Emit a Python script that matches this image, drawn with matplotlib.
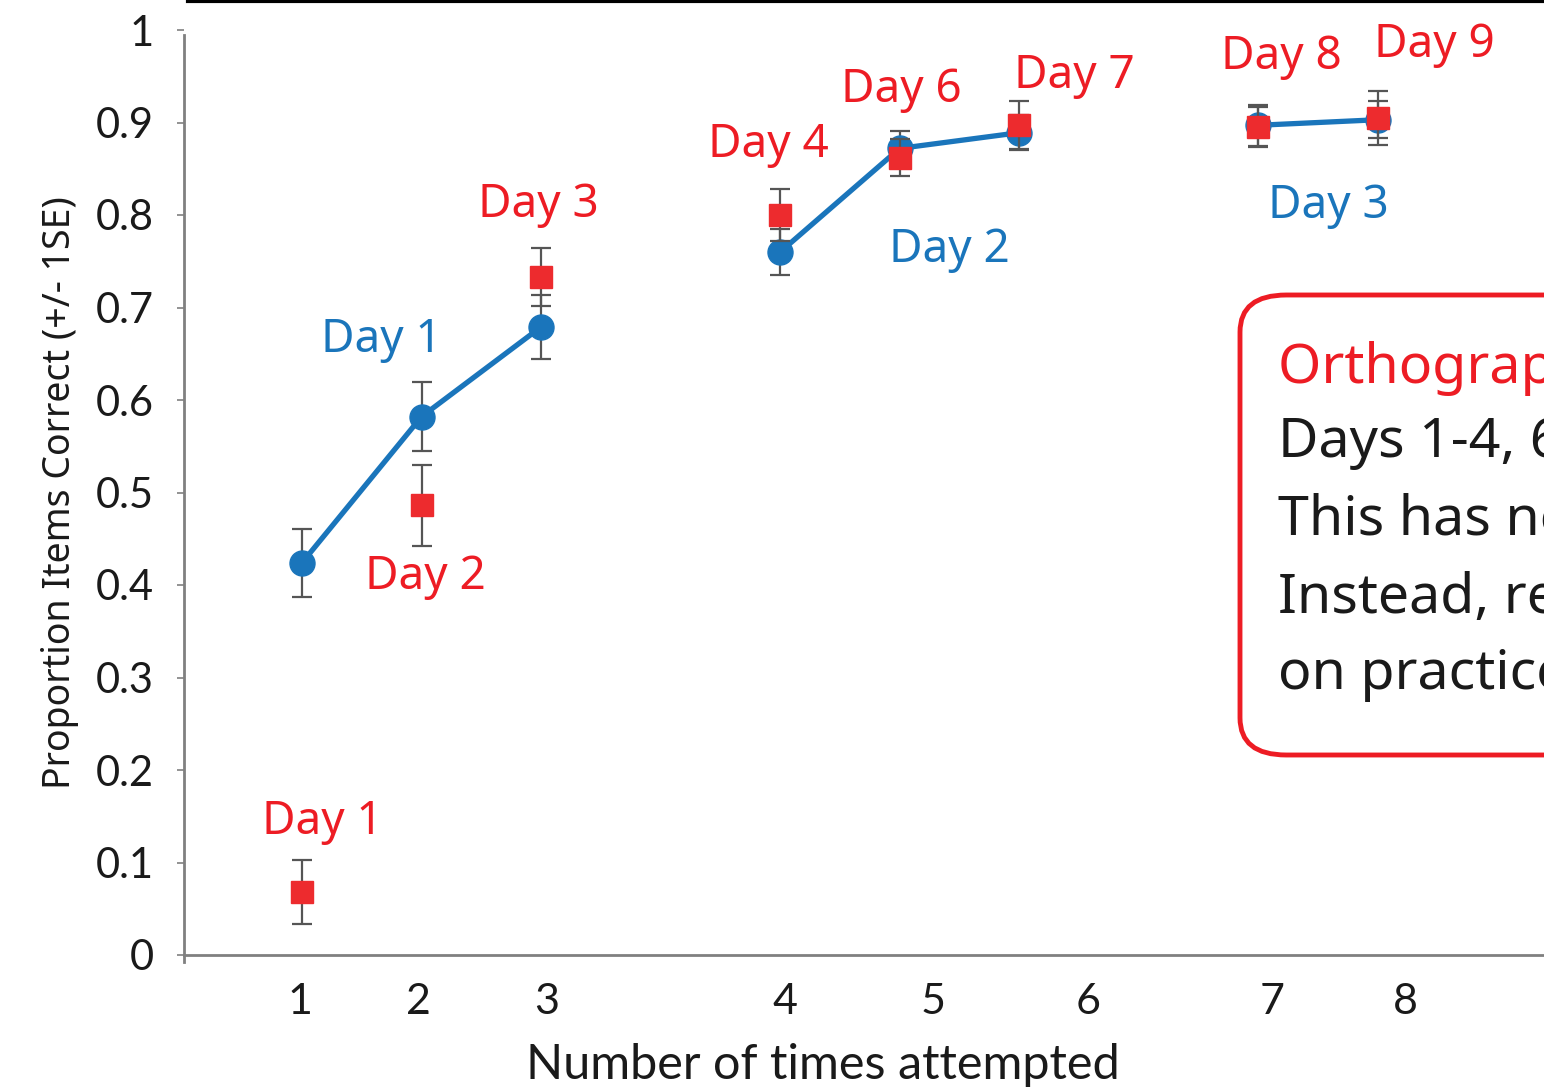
import numpy as np
import matplotlib
matplotlib.use("Agg")
import matplotlib.pyplot as plt
from matplotlib.patches import FancyBboxPatch
from matplotlib.lines import Line2D

# ---------------- data ----------------
# plotting slots (gaps between blocks of sessions)
slot_blue = [1, 2, 3, np.nan, 5, 6, 7, np.nan, 9, 10]
blue_mean = [0.424, 0.582, 0.679, np.nan, 0.760, 0.872, 0.889, np.nan, 0.897, 0.903]
blue_se   = [0.037, 0.037, 0.035, np.nan, 0.025, 0.019, 0.019, np.nan, 0.022, 0.020]

slot_red = [1, 2, 3, 5, 6, 7, 9, 10]
red_mean = [0.068, 0.486, 0.733, 0.800, 0.862, 0.897, 0.895, 0.905]
red_se   = [0.035, 0.044, 0.031, 0.028, 0.020, 0.026, 0.022, 0.029]

red_labels = ["Day 1", "Day 2", "Day 3", "Day 4", "Day 6", "Day 7", "Day 8", "Day 9"]
blue_labels = ["Day 1", "Day 2", "Day 3"]

xtick_pos = [0.983, 1.971, 3.05, 5.04, 6.28, 7.577, 9.117, 10.23]
xtick_labels = ["1", "2", "3", "4", "5", "6", "7", "8"]
ytick_vals = [0.0, 0.1, 0.2, 0.3, 0.4, 0.5, 0.6, 0.7, 0.8, 0.9, 1.0]
ytick_labels = ["0", "0.1", "0.2", "0.3", "0.4", "0.5", "0.6", "0.7", "0.8", "0.9", "1"]

box_lines = ["Orthographic learning:",
             "Days 1-4, 6-9 show steady gains.",
             "This has not reached ceiling.",
             "Instead, retention depends",
             "on practice over time."]

# ---------------- style ----------------
BLUE = "#1a75bb"
RED = "#ed2b2e"
RED_TXT = "#ed1c24"
GRAY = "#808080"
ERR = "#555555"
ANN_FONT = ["Noto Sans", "DejaVu Sans"]
TICK_FONT = ["Lato", "DejaVu Sans"]

W, H = 1544, 1092
fig = plt.figure(figsize=(W / 100, H / 100), dpi=100)
fig.patch.set_facecolor("white")

def fx(px):
    return px / W

def fy(py):
    return (H - py) / H

ax = fig.add_axes([fx(184), fy(955), fx(1544) - fx(184), fy(30) - fy(955)])
ax.set_xlim(0.013, 11.39)
ax.set_ylim(0, 1)

# blue line and points
ax.errorbar(slot_blue, blue_mean, yerr=blue_se, fmt="none", ecolor=ERR,
            elinewidth=1.6, capsize=7, capthick=1.6, zorder=2)
ax.plot(slot_blue, blue_mean, color=BLUE, lw=3.8, marker="o", ms=18,
        mfc=BLUE, mec=BLUE, zorder=3)
# red points
ax.errorbar(slot_red, red_mean, yerr=red_se, fmt="none", ecolor=ERR,
            elinewidth=1.6, capsize=7, capthick=1.6, zorder=4)
ax.plot(slot_red, red_mean, ls="none", marker="s", ms=16.5, mfc=RED, mec=RED, zorder=5)

# axes style
for s in ["top", "right"]:
    ax.spines[s].set_visible(False)
for s in ["left", "bottom"]:
    ax.spines[s].set_color(GRAY)
    ax.spines[s].set_linewidth(2.0)
ax.spines["left"].set_bounds(-0.008, 0.995)
ax.set_yticks(ytick_vals)
ax.set_yticklabels(ytick_labels, fontfamily=TICK_FONT, fontsize=30, color="#1a1a1a")
ax.tick_params(axis="y", direction="out", length=5, width=1.2, color=GRAY, pad=17)
ax.set_xticks(xtick_pos)
ax.set_xticklabels(xtick_labels, fontfamily=TICK_FONT, fontsize=31, color="#1a1a1a")
ax.tick_params(axis="x", length=0, pad=20)

# axis titles
fig.text(fx(60), fy(493), "Proportion Items Correct (+/- 1SE)", rotation=90,
         ha="center", va="center", fontsize=27, family=ANN_FONT, color="#1a1a1a")
fig.text(fx(823), fy(1065), "Number of times attempted", ha="center", va="center",
         fontsize=35, family=TICK_FONT, color="#1a1a1a")

# day annotations (pixel placements)
red_lbl_px = [(322, 822), (425, 577), (538, 205), (768, 145), (901, 90),
              (1074, 76), (1281, 57), (1434, 45)]
blue_lbl_px = [(381, 340), (949, 250), (1328, 206)]
for t, (px, py) in zip(red_labels, red_lbl_px):
    fig.text(fx(px), fy(py), t, ha="center", va="center", fontsize=33,
             family=ANN_FONT, color=RED_TXT)
for t, (px, py) in zip(blue_labels, blue_lbl_px):
    fig.text(fx(px), fy(py), t, ha="center", va="center", fontsize=33,
             family=ANN_FONT, color=BLUE)

# top black line (slide element)
fig.add_artist(Line2D([fx(188), 1.0], [fy(1), fy(1)], color="black", lw=3,
                      transform=fig.transFigure))

# rounded callout box (cropped at right)
box = FancyBboxPatch((fx(1240), fy(755)), fx(800), fy(295) - fy(755),
                     boxstyle="round,pad=0,rounding_size=0.03",
                     transform=fig.transFigure, fc="white", ec=RED_TXT, lw=3.5,
                     mutation_aspect=H / W * 1.6)
fig.add_artist(box)
line_y = [368, 443, 520, 598, 675]
for i, (t, py) in enumerate(zip(box_lines, line_y)):
    fig.text(fx(1278), fy(py), t, ha="left", va="center", fontsize=40,
             family=ANN_FONT, color=RED_TXT if i == 0 else "#1a1a1a")

fig.savefig("out.png", dpi=100)
